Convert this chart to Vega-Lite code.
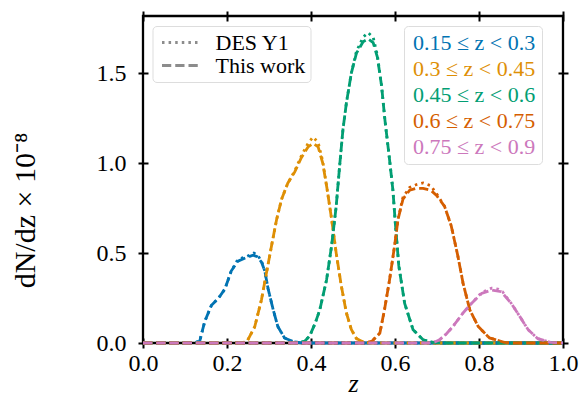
{
  "$schema": "https://vega.github.io/schema/vega-lite/v6.json",
  "autosize": "none",
  "width": 420,
  "height": 327,
  "padding": {"left": 143, "top": 16, "right": 19, "bottom": 69},
  "background": "white",
  "config": {
    "view": {"stroke": "black", "strokeWidth": 2.3},
    "font": "Liberation Serif",
    "axis": {
      "labelFont": "Liberation Serif",
      "labelFontSize": 24,
      "labelColor": "black",
      "labelFlush": false,
      "titleFont": "Liberation Serif",
      "titleColor": "black",
      "titleFontWeight": "normal",
      "tickColor": "black",
      "tickWidth": 2,
      "tickSize": 10,
      "offset": -5,
      "domain": false,
      "grid": false,
      "zindex": 1
    },
    "legend": {
      "labelFont": "Liberation Serif",
      "labelFontSize": 22,
      "labelColor": "black",
      "fillColor": "white",
      "strokeColor": "#dddddd",
      "cornerRadius": 4,
      "labelLimit": 400
    }
  },
  "datasets": {
    "des": [
      {"src": "DES Y1", "b": 1, "z": 0.0, "n": 0},
      {"src": "DES Y1", "b": 1, "z": 0.12, "n": 0},
      {"src": "DES Y1", "b": 1, "z": 0.135, "n": 0.01},
      {"src": "DES Y1", "b": 1, "z": 0.147, "n": 0.12},
      {"src": "DES Y1", "b": 1, "z": 0.163, "n": 0.21},
      {"src": "DES Y1", "b": 1, "z": 0.18, "n": 0.25},
      {"src": "DES Y1", "b": 1, "z": 0.195, "n": 0.3},
      {"src": "DES Y1", "b": 1, "z": 0.21, "n": 0.4},
      {"src": "DES Y1", "b": 1, "z": 0.226, "n": 0.465},
      {"src": "DES Y1", "b": 1, "z": 0.246, "n": 0.48},
      {"src": "DES Y1", "b": 1, "z": 0.264, "n": 0.5},
      {"src": "DES Y1", "b": 1, "z": 0.274, "n": 0.485},
      {"src": "DES Y1", "b": 1, "z": 0.283, "n": 0.45},
      {"src": "DES Y1", "b": 1, "z": 0.29, "n": 0.4},
      {"src": "DES Y1", "b": 1, "z": 0.298, "n": 0.3},
      {"src": "DES Y1", "b": 1, "z": 0.31, "n": 0.185},
      {"src": "DES Y1", "b": 1, "z": 0.321, "n": 0.092},
      {"src": "DES Y1", "b": 1, "z": 0.337, "n": 0.028},
      {"src": "DES Y1", "b": 1, "z": 0.36, "n": 0.006},
      {"src": "DES Y1", "b": 1, "z": 0.38, "n": 0},
      {"src": "DES Y1", "b": 1, "z": 1.0, "n": 0},
      {"src": "DES Y1", "b": 2, "z": 0.0, "n": 0},
      {"src": "DES Y1", "b": 2, "z": 0.235, "n": 0},
      {"src": "DES Y1", "b": 2, "z": 0.248, "n": 0.01},
      {"src": "DES Y1", "b": 2, "z": 0.266, "n": 0.09},
      {"src": "DES Y1", "b": 2, "z": 0.282, "n": 0.24},
      {"src": "DES Y1", "b": 2, "z": 0.294, "n": 0.39},
      {"src": "DES Y1", "b": 2, "z": 0.306, "n": 0.54},
      {"src": "DES Y1", "b": 2, "z": 0.318, "n": 0.685},
      {"src": "DES Y1", "b": 2, "z": 0.33, "n": 0.8},
      {"src": "DES Y1", "b": 2, "z": 0.345, "n": 0.89},
      {"src": "DES Y1", "b": 2, "z": 0.361, "n": 0.955},
      {"src": "DES Y1", "b": 2, "z": 0.377, "n": 1.04},
      {"src": "DES Y1", "b": 2, "z": 0.393, "n": 1.11},
      {"src": "DES Y1", "b": 2, "z": 0.405, "n": 1.145},
      {"src": "DES Y1", "b": 2, "z": 0.417, "n": 1.115},
      {"src": "DES Y1", "b": 2, "z": 0.428, "n": 1.01},
      {"src": "DES Y1", "b": 2, "z": 0.438, "n": 0.86},
      {"src": "DES Y1", "b": 2, "z": 0.449, "n": 0.69},
      {"src": "DES Y1", "b": 2, "z": 0.46, "n": 0.5},
      {"src": "DES Y1", "b": 2, "z": 0.472, "n": 0.32},
      {"src": "DES Y1", "b": 2, "z": 0.484, "n": 0.17},
      {"src": "DES Y1", "b": 2, "z": 0.496, "n": 0.075},
      {"src": "DES Y1", "b": 2, "z": 0.508, "n": 0.025},
      {"src": "DES Y1", "b": 2, "z": 0.525, "n": 0.004},
      {"src": "DES Y1", "b": 2, "z": 0.54, "n": 0},
      {"src": "DES Y1", "b": 2, "z": 1.0, "n": 0},
      {"src": "DES Y1", "b": 3, "z": 0.0, "n": 0},
      {"src": "DES Y1", "b": 3, "z": 0.37, "n": 0},
      {"src": "DES Y1", "b": 3, "z": 0.385, "n": 0.01},
      {"src": "DES Y1", "b": 3, "z": 0.397, "n": 0.04},
      {"src": "DES Y1", "b": 3, "z": 0.41, "n": 0.11},
      {"src": "DES Y1", "b": 3, "z": 0.421, "n": 0.185},
      {"src": "DES Y1", "b": 3, "z": 0.437, "n": 0.35},
      {"src": "DES Y1", "b": 3, "z": 0.449, "n": 0.54},
      {"src": "DES Y1", "b": 3, "z": 0.46, "n": 0.76},
      {"src": "DES Y1", "b": 3, "z": 0.468, "n": 0.98},
      {"src": "DES Y1", "b": 3, "z": 0.476, "n": 1.185},
      {"src": "DES Y1", "b": 3, "z": 0.484, "n": 1.33},
      {"src": "DES Y1", "b": 3, "z": 0.496, "n": 1.5},
      {"src": "DES Y1", "b": 3, "z": 0.508, "n": 1.62},
      {"src": "DES Y1", "b": 3, "z": 0.524, "n": 1.7},
      {"src": "DES Y1", "b": 3, "z": 0.536, "n": 1.725},
      {"src": "DES Y1", "b": 3, "z": 0.548, "n": 1.7},
      {"src": "DES Y1", "b": 3, "z": 0.558, "n": 1.6},
      {"src": "DES Y1", "b": 3, "z": 0.568, "n": 1.43},
      {"src": "DES Y1", "b": 3, "z": 0.576, "n": 1.24},
      {"src": "DES Y1", "b": 3, "z": 0.587, "n": 1.02},
      {"src": "DES Y1", "b": 3, "z": 0.595, "n": 0.85},
      {"src": "DES Y1", "b": 3, "z": 0.601, "n": 0.66},
      {"src": "DES Y1", "b": 3, "z": 0.609, "n": 0.43},
      {"src": "DES Y1", "b": 3, "z": 0.623, "n": 0.22},
      {"src": "DES Y1", "b": 3, "z": 0.643, "n": 0.074},
      {"src": "DES Y1", "b": 3, "z": 0.667, "n": 0.018},
      {"src": "DES Y1", "b": 3, "z": 0.69, "n": 0.003},
      {"src": "DES Y1", "b": 3, "z": 0.71, "n": 0},
      {"src": "DES Y1", "b": 3, "z": 1.0, "n": 0},
      {"src": "DES Y1", "b": 4, "z": 0.0, "n": 0},
      {"src": "DES Y1", "b": 4, "z": 0.53, "n": 0},
      {"src": "DES Y1", "b": 4, "z": 0.545, "n": 0.01},
      {"src": "DES Y1", "b": 4, "z": 0.564, "n": 0.055},
      {"src": "DES Y1", "b": 4, "z": 0.575, "n": 0.185},
      {"src": "DES Y1", "b": 4, "z": 0.587, "n": 0.35},
      {"src": "DES Y1", "b": 4, "z": 0.599, "n": 0.54},
      {"src": "DES Y1", "b": 4, "z": 0.607, "n": 0.685},
      {"src": "DES Y1", "b": 4, "z": 0.619, "n": 0.81},
      {"src": "DES Y1", "b": 4, "z": 0.635, "n": 0.865},
      {"src": "DES Y1", "b": 4, "z": 0.65, "n": 0.88},
      {"src": "DES Y1", "b": 4, "z": 0.667, "n": 0.89},
      {"src": "DES Y1", "b": 4, "z": 0.685, "n": 0.875},
      {"src": "DES Y1", "b": 4, "z": 0.699, "n": 0.83},
      {"src": "DES Y1", "b": 4, "z": 0.718, "n": 0.76},
      {"src": "DES Y1", "b": 4, "z": 0.734, "n": 0.65},
      {"src": "DES Y1", "b": 4, "z": 0.75, "n": 0.48},
      {"src": "DES Y1", "b": 4, "z": 0.762, "n": 0.333},
      {"src": "DES Y1", "b": 4, "z": 0.778, "n": 0.185},
      {"src": "DES Y1", "b": 4, "z": 0.798, "n": 0.092},
      {"src": "DES Y1", "b": 4, "z": 0.825, "n": 0.028},
      {"src": "DES Y1", "b": 4, "z": 0.86, "n": 0.004},
      {"src": "DES Y1", "b": 4, "z": 0.88, "n": 0},
      {"src": "DES Y1", "b": 4, "z": 1.0, "n": 0},
      {"src": "DES Y1", "b": 5, "z": 0.0, "n": 0},
      {"src": "DES Y1", "b": 5, "z": 0.68, "n": 0},
      {"src": "DES Y1", "b": 5, "z": 0.695, "n": 0.006},
      {"src": "DES Y1", "b": 5, "z": 0.706, "n": 0.018},
      {"src": "DES Y1", "b": 5, "z": 0.722, "n": 0.05},
      {"src": "DES Y1", "b": 5, "z": 0.738, "n": 0.092},
      {"src": "DES Y1", "b": 5, "z": 0.762, "n": 0.167},
      {"src": "DES Y1", "b": 5, "z": 0.782, "n": 0.22},
      {"src": "DES Y1", "b": 5, "z": 0.806, "n": 0.28},
      {"src": "DES Y1", "b": 5, "z": 0.83, "n": 0.305},
      {"src": "DES Y1", "b": 5, "z": 0.845, "n": 0.3},
      {"src": "DES Y1", "b": 5, "z": 0.856, "n": 0.285},
      {"src": "DES Y1", "b": 5, "z": 0.877, "n": 0.22},
      {"src": "DES Y1", "b": 5, "z": 0.897, "n": 0.148},
      {"src": "DES Y1", "b": 5, "z": 0.917, "n": 0.074},
      {"src": "DES Y1", "b": 5, "z": 0.94, "n": 0.024},
      {"src": "DES Y1", "b": 5, "z": 0.97, "n": 0.004},
      {"src": "DES Y1", "b": 5, "z": 1.0, "n": 0}
    ],
    "work": [
      {"src": "This work", "b": 1, "z": 0.0, "n": 0},
      {"src": "This work", "b": 1, "z": 0.12, "n": 0},
      {"src": "This work", "b": 1, "z": 0.135, "n": 0.01},
      {"src": "This work", "b": 1, "z": 0.147, "n": 0.12},
      {"src": "This work", "b": 1, "z": 0.163, "n": 0.21},
      {"src": "This work", "b": 1, "z": 0.18, "n": 0.25},
      {"src": "This work", "b": 1, "z": 0.195, "n": 0.3},
      {"src": "This work", "b": 1, "z": 0.21, "n": 0.4},
      {"src": "This work", "b": 1, "z": 0.226, "n": 0.455},
      {"src": "This work", "b": 1, "z": 0.246, "n": 0.475},
      {"src": "This work", "b": 1, "z": 0.262, "n": 0.488},
      {"src": "This work", "b": 1, "z": 0.272, "n": 0.48},
      {"src": "This work", "b": 1, "z": 0.282, "n": 0.45},
      {"src": "This work", "b": 1, "z": 0.29, "n": 0.4},
      {"src": "This work", "b": 1, "z": 0.298, "n": 0.3},
      {"src": "This work", "b": 1, "z": 0.31, "n": 0.185},
      {"src": "This work", "b": 1, "z": 0.321, "n": 0.092},
      {"src": "This work", "b": 1, "z": 0.337, "n": 0.028},
      {"src": "This work", "b": 1, "z": 0.36, "n": 0.006},
      {"src": "This work", "b": 1, "z": 0.38, "n": 0},
      {"src": "This work", "b": 1, "z": 1.0, "n": 0},
      {"src": "This work", "b": 2, "z": 0.0, "n": 0},
      {"src": "This work", "b": 2, "z": 0.235, "n": 0},
      {"src": "This work", "b": 2, "z": 0.248, "n": 0.01},
      {"src": "This work", "b": 2, "z": 0.266, "n": 0.09},
      {"src": "This work", "b": 2, "z": 0.282, "n": 0.24},
      {"src": "This work", "b": 2, "z": 0.294, "n": 0.39},
      {"src": "This work", "b": 2, "z": 0.306, "n": 0.54},
      {"src": "This work", "b": 2, "z": 0.318, "n": 0.685},
      {"src": "This work", "b": 2, "z": 0.33, "n": 0.8},
      {"src": "This work", "b": 2, "z": 0.345, "n": 0.89},
      {"src": "This work", "b": 2, "z": 0.361, "n": 0.95},
      {"src": "This work", "b": 2, "z": 0.377, "n": 1.03},
      {"src": "This work", "b": 2, "z": 0.393, "n": 1.09},
      {"src": "This work", "b": 2, "z": 0.405, "n": 1.11},
      {"src": "This work", "b": 2, "z": 0.417, "n": 1.09},
      {"src": "This work", "b": 2, "z": 0.428, "n": 1.0},
      {"src": "This work", "b": 2, "z": 0.438, "n": 0.86},
      {"src": "This work", "b": 2, "z": 0.449, "n": 0.69},
      {"src": "This work", "b": 2, "z": 0.46, "n": 0.5},
      {"src": "This work", "b": 2, "z": 0.472, "n": 0.32},
      {"src": "This work", "b": 2, "z": 0.484, "n": 0.17},
      {"src": "This work", "b": 2, "z": 0.496, "n": 0.075},
      {"src": "This work", "b": 2, "z": 0.508, "n": 0.025},
      {"src": "This work", "b": 2, "z": 0.525, "n": 0.004},
      {"src": "This work", "b": 2, "z": 0.54, "n": 0},
      {"src": "This work", "b": 2, "z": 1.0, "n": 0},
      {"src": "This work", "b": 3, "z": 0.0, "n": 0},
      {"src": "This work", "b": 3, "z": 0.37, "n": 0},
      {"src": "This work", "b": 3, "z": 0.385, "n": 0.01},
      {"src": "This work", "b": 3, "z": 0.397, "n": 0.04},
      {"src": "This work", "b": 3, "z": 0.41, "n": 0.11},
      {"src": "This work", "b": 3, "z": 0.421, "n": 0.185},
      {"src": "This work", "b": 3, "z": 0.437, "n": 0.35},
      {"src": "This work", "b": 3, "z": 0.449, "n": 0.54},
      {"src": "This work", "b": 3, "z": 0.46, "n": 0.76},
      {"src": "This work", "b": 3, "z": 0.468, "n": 0.98},
      {"src": "This work", "b": 3, "z": 0.476, "n": 1.185},
      {"src": "This work", "b": 3, "z": 0.484, "n": 1.33},
      {"src": "This work", "b": 3, "z": 0.496, "n": 1.5},
      {"src": "This work", "b": 3, "z": 0.508, "n": 1.61},
      {"src": "This work", "b": 3, "z": 0.524, "n": 1.675},
      {"src": "This work", "b": 3, "z": 0.536, "n": 1.69},
      {"src": "This work", "b": 3, "z": 0.548, "n": 1.67},
      {"src": "This work", "b": 3, "z": 0.558, "n": 1.59},
      {"src": "This work", "b": 3, "z": 0.568, "n": 1.43},
      {"src": "This work", "b": 3, "z": 0.576, "n": 1.24},
      {"src": "This work", "b": 3, "z": 0.587, "n": 1.02},
      {"src": "This work", "b": 3, "z": 0.595, "n": 0.85},
      {"src": "This work", "b": 3, "z": 0.601, "n": 0.66},
      {"src": "This work", "b": 3, "z": 0.609, "n": 0.43},
      {"src": "This work", "b": 3, "z": 0.623, "n": 0.22},
      {"src": "This work", "b": 3, "z": 0.643, "n": 0.074},
      {"src": "This work", "b": 3, "z": 0.667, "n": 0.018},
      {"src": "This work", "b": 3, "z": 0.69, "n": 0.003},
      {"src": "This work", "b": 3, "z": 0.71, "n": 0},
      {"src": "This work", "b": 3, "z": 1.0, "n": 0},
      {"src": "This work", "b": 4, "z": 0.0, "n": 0},
      {"src": "This work", "b": 4, "z": 0.53, "n": 0},
      {"src": "This work", "b": 4, "z": 0.545, "n": 0.01},
      {"src": "This work", "b": 4, "z": 0.564, "n": 0.055},
      {"src": "This work", "b": 4, "z": 0.575, "n": 0.185},
      {"src": "This work", "b": 4, "z": 0.587, "n": 0.35},
      {"src": "This work", "b": 4, "z": 0.599, "n": 0.54},
      {"src": "This work", "b": 4, "z": 0.607, "n": 0.685},
      {"src": "This work", "b": 4, "z": 0.619, "n": 0.8},
      {"src": "This work", "b": 4, "z": 0.635, "n": 0.85},
      {"src": "This work", "b": 4, "z": 0.65, "n": 0.86},
      {"src": "This work", "b": 4, "z": 0.667, "n": 0.86},
      {"src": "This work", "b": 4, "z": 0.685, "n": 0.85},
      {"src": "This work", "b": 4, "z": 0.699, "n": 0.82},
      {"src": "This work", "b": 4, "z": 0.718, "n": 0.76},
      {"src": "This work", "b": 4, "z": 0.734, "n": 0.65},
      {"src": "This work", "b": 4, "z": 0.75, "n": 0.48},
      {"src": "This work", "b": 4, "z": 0.762, "n": 0.333},
      {"src": "This work", "b": 4, "z": 0.778, "n": 0.185},
      {"src": "This work", "b": 4, "z": 0.798, "n": 0.092},
      {"src": "This work", "b": 4, "z": 0.825, "n": 0.028},
      {"src": "This work", "b": 4, "z": 0.86, "n": 0.004},
      {"src": "This work", "b": 4, "z": 0.88, "n": 0},
      {"src": "This work", "b": 4, "z": 1.0, "n": 0},
      {"src": "This work", "b": 5, "z": 0.0, "n": 0},
      {"src": "This work", "b": 5, "z": 0.68, "n": 0},
      {"src": "This work", "b": 5, "z": 0.695, "n": 0.006},
      {"src": "This work", "b": 5, "z": 0.706, "n": 0.018},
      {"src": "This work", "b": 5, "z": 0.722, "n": 0.05},
      {"src": "This work", "b": 5, "z": 0.738, "n": 0.092},
      {"src": "This work", "b": 5, "z": 0.762, "n": 0.167},
      {"src": "This work", "b": 5, "z": 0.782, "n": 0.22},
      {"src": "This work", "b": 5, "z": 0.806, "n": 0.275},
      {"src": "This work", "b": 5, "z": 0.83, "n": 0.295},
      {"src": "This work", "b": 5, "z": 0.853, "n": 0.285},
      {"src": "This work", "b": 5, "z": 0.877, "n": 0.22},
      {"src": "This work", "b": 5, "z": 0.897, "n": 0.148},
      {"src": "This work", "b": 5, "z": 0.917, "n": 0.074},
      {"src": "This work", "b": 5, "z": 0.94, "n": 0.024},
      {"src": "This work", "b": 5, "z": 0.97, "n": 0.004},
      {"src": "This work", "b": 5, "z": 1.0, "n": 0}
    ]
  },
  "layer": [
    {
      "data": {"name": "des"},
      "mark": {"type": "line", "strokeWidth": 2.8, "strokeCap": "butt"},
      "encoding": {
        "x": {
          "field": "z", "type": "quantitative",
          "scale": {"domain": [0, 1], "nice": false, "zero": false},
          "axis": {
            "orient": "bottom", "values": [0, 0.2, 0.4, 0.6, 0.8, 1.0], "format": ".1f",
            "labelFont": "Liberation Serif", "labelFontSize": 24, "labelColor": "black", "labelFlush": false,
            "labelPadding": 3, "title": "z", "titleFont": "Liberation Serif", "titleFontStyle": "italic", "titleFontSize": 26, "titlePadding": -5
          }
        },
        "y": {
          "field": "n", "type": "quantitative",
          "scale": {"domain": [0, 1.818], "nice": false, "zero": false},
          "axis": {
            "orient": "left", "values": [0, 0.5, 1.0, 1.5], "format": ".1f",
            "labelFont": "Liberation Serif", "labelFontSize": 24, "labelColor": "black", "labelFlush": false,
            "labelPadding": 12, "title": "dN/dz × 10⁻⁸", "titleFont": "Liberation Serif", "titleFontSize": 30, "titlePadding": 56, "titleY": 194
          }
        },
        "color": {
          "field": "b", "type": "nominal",
          "scale": {"domain": [1, 2, 3, 4, 5], "range": ["#0173b2", "#de8f05", "#029e73", "#d55e00", "#cc78bc"]},
          "legend": {
            "orient": "none",
            "legendX": 261,
            "legendY": 10,
            "title": null,
            "symbolSize": 0,
            "symbolOpacity": 0,
            "symbolStrokeWidth": 0,
            "labelOffset": -19,
            "padding": 6,
            "rowPadding": 4,
            "labelExpr": "['', '0.15 ≤ z < 0.3', '0.3 ≤ z < 0.45', '0.45 ≤ z < 0.6', '0.6 ≤ z < 0.75', '0.75 ≤ z < 0.9'][datum.value]",
            "encode": {"labels": {"update": {"fill": {"scale": "color", "field": "value"}}}}
          }
        },
        "strokeDash": {
          "field": "src", "type": "nominal",
          "scale": {"domain": ["DES Y1", "This work"], "range": [[2.5, 4.1], [9.25, 4]]},
          "legend": {
            "orient": "none",
            "legendX": 9.5,
            "legendY": 10,
            "title": null,
            "symbolType": "M-0.7,0H3.1",
            "symbolSize": 400,
            "symbolStrokeWidth": 2.8,
            "symbolStrokeColor": "#8c8c8c",
            "symbolFillColor": "transparent",
            "labelOffset": 35,
            "padding": 5,
            "rowPadding": 0
          }
        }
      }
    },
    {
      "data": {"name": "work"},
      "mark": {"type": "line", "strokeWidth": 2.8, "strokeCap": "butt"},
      "encoding": {
        "x": {
          "field": "z", "type": "quantitative",
          "axis": {"orient": "top", "values": [0, 0.2, 0.4, 0.6, 0.8, 1.0], "labels": false, "title": null}
        },
        "y": {
          "field": "n", "type": "quantitative",
          "axis": {"orient": "right", "values": [0, 0.5, 1.0, 1.5], "labels": false, "title": null}
        },
        "color": {"field": "b", "type": "nominal"},
        "strokeDash": {"field": "src", "type": "nominal"}
      }
    }
  ],
  "resolve": {"axis": {"x": "independent", "y": "independent"}}
}
